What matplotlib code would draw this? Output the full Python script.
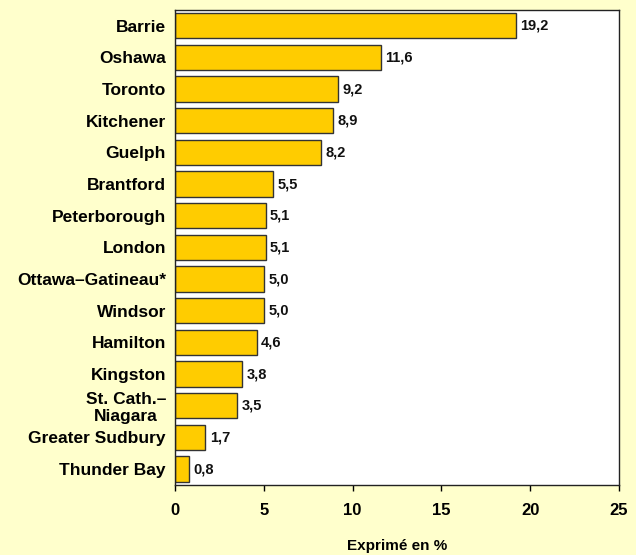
import numpy as np
import matplotlib
matplotlib.use("Agg")
import matplotlib.pyplot as plt

# data (top to bottom as in chart)
villes = ["Barrie", "Oshawa", "Toronto", "Kitchener", "Guelph", "Brantford",
          "Peterborough", "London", "Ottawa–Gatineau*", "Windsor", "Hamilton",
          "Kingston", "St. Cath.–\nNiagara", "Greater Sudbury", "Thunder Bay"]
valeurs = [19.2, 11.6, 9.2, 8.9, 8.2, 5.5, 5.1, 5.1, 5.0, 5.0, 4.6, 3.8, 3.5, 1.7, 0.8]
xticks = [0, 5, 10, 15, 20, 25]

plt.rcParams['font.family'] = ['Liberation Sans', 'DejaVu Sans']
plt.rcParams['font.weight'] = 'bold'

fond = "#FFFFCC"
fig = plt.figure(figsize=(6.36, 5.55), dpi=100, facecolor=fond)
ax = fig.add_axes([175/636, 1-485/555, 444/636, 475/555])
ax.set_facecolor("white")

y = np.arange(len(villes))
ax.barh(y, valeurs, height=0.8, color="#FFCC00", edgecolor="#333333", linewidth=1.0)
for yi, v in zip(y, valeurs):
    ax.text(v + 0.25, yi, ("%.1f" % v).replace(".", ","), va="center", ha="left",
            fontsize=10.5, fontweight="bold", color="#111111")

ax.set_ylim(len(villes) - 0.5, -0.5)
ax.set_xlim(0, 25)
ax.set_xticks(xticks)
ax.set_xticklabels([str(t) for t in xticks], fontsize=12, fontweight="bold")
ax.set_yticks(y)
ax.set_yticklabels(villes, fontsize=12.5, fontweight="bold", linespacing=1.15)
for lab in ax.get_yticklabels():
    lab.set_multialignment("center")
ax.tick_params(axis="y", length=0, pad=6.5)
ax.tick_params(axis="x", length=4, width=1, direction="out", pad=9)
for s in ax.spines.values():
    s.set_color("#222222")
    s.set_linewidth(1.0)
ax.set_xlabel("Exprimé en %", fontsize=11, fontweight="bold", labelpad=15)

fig.savefig("out.png", dpi=100, facecolor=fond)
